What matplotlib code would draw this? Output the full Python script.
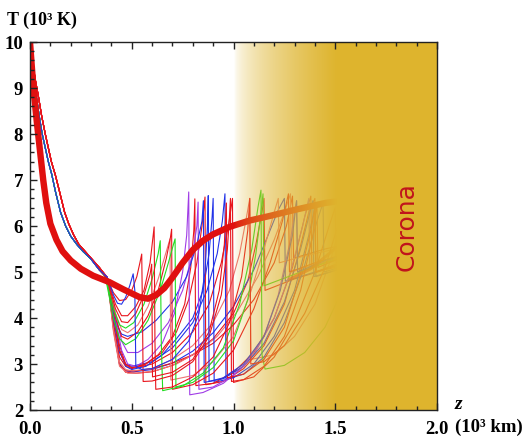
import numpy as np
import matplotlib
matplotlib.use("Agg")
import matplotlib.pyplot as plt
from matplotlib.ticker import MultipleLocator

# ---------------- data (z in 10^3 km, T in 10^3 K) ----------------
x_ticks = [0.0, 0.5, 1.0, 1.5, 2.0]
x_tick_labels = ["0.0", "0.5", "1.0", "1.5", "2.0"]
y_ticks = [2, 3, 4, 5, 6, 7, 8, 9, 10]
y_tick_labels = ["2", "3", "4", "5", "6", "7", "8", "9", "10"]

# shared descent of the thin (blue / green / purple) traces
descent_z = [0.0, 0.01, 0.02, 0.03, 0.045, 0.06, 0.075, 0.09, 0.107, 0.125, 0.15,
             0.175, 0.2, 0.23, 0.26, 0.3]
descent_T = [10.0, 9.6, 9.2, 8.85, 8.4, 8.0, 7.7, 7.4, 7.12, 6.75, 6.3,
             6.0, 5.78, 5.6, 5.45, 5.28]
# descent of the red traces (slightly to the right)
descent_red_z = [0.0, 0.012, 0.025, 0.04, 0.057, 0.075, 0.09, 0.105, 0.125, 0.145,
                 0.17, 0.19, 0.215, 0.24, 0.27, 0.3]
descent_red_T = [10.0, 9.6, 9.2, 8.85, 8.4, 8.0, 7.7, 7.4, 7.1, 6.75, 6.3,
                 6.05, 5.8, 5.6, 5.45, 5.3]

# mean temperature (thick line)
mean_z = [0.0, 0.01, 0.02, 0.035, 0.05, 0.065, 0.08, 0.1, 0.13, 0.16, 0.2, 0.25,
          0.31, 0.39, 0.46, 0.54, 0.58, 0.62, 0.66, 0.7, 0.75, 0.8, 0.85, 0.9,
          0.98, 1.08, 1.18, 1.3, 1.45, 1.65]
mean_T = [10.0, 9.4, 8.85, 8.2, 7.6, 7.0, 6.5, 6.05, 5.7, 5.45, 5.25, 5.07,
          4.92, 4.78, 4.62, 4.45, 4.42, 4.5, 4.65, 4.88, 5.2, 5.48, 5.68, 5.82,
          5.98, 6.12, 6.22, 6.35, 6.5, 6.62]
mean2_z = [1.28, 1.38, 1.47, 1.57, 1.65]
mean2_T = [4.85, 5.07, 5.4, 5.78, 6.0]

# individual traces after z = 0.3 : (z, T) points
blue1 = [(0.34, 5.05), (0.38, 4.88), (0.41, 4.5), (0.43, 4.32), (0.45, 4.3), (0.47, 4.45),
         (0.49, 4.7), (0.507, 4.96), (0.515, 4.6), (0.52, 2.95), (0.55, 2.88), (0.6, 2.9),
         (0.7, 3.1), (0.78, 3.5), (0.83, 4.1), (0.86, 5.0), (0.872, 6.0), (0.876, 6.66),
         (0.88, 2.62), (0.95, 2.7), (1.05, 3.0), (1.15, 3.6), (1.23, 4.6), (1.29, 5.8),
         (1.31, 6.55), (1.315, 5.0), (1.45, 5.25), (1.6, 5.45)]
red2 = [(0.34, 5.1), (0.38, 4.85), (0.41, 4.55), (0.44, 4.38), (0.47, 4.4), (0.5, 4.6),
        (0.525, 4.9), (0.54, 5.2), (0.549, 5.39), (0.553, 4.0), (0.556, 2.62), (0.6, 2.63),
        (0.7, 2.75), (0.8, 3.05), (0.88, 3.6), (0.94, 4.5), (0.97, 5.5), (0.98, 6.2),
        (0.985, 6.6), (0.99, 2.62), (1.05, 2.66), (1.15, 2.95), (1.25, 3.6), (1.33, 4.6),
        (1.39, 5.8), (1.41, 6.5), (1.415, 5.1), (1.55, 5.35), (1.65, 5.5)]
red3 = [(0.34, 5.1), (0.38, 4.85), (0.42, 4.3), (0.45, 4.05), (0.48, 4.05), (0.52, 4.25),
        (0.56, 4.6), (0.59, 5.2), (0.61, 5.98), (0.614, 3.5), (0.618, 2.45), (0.7, 2.5),
        (0.8, 2.72), (0.9, 3.15), (0.98, 3.9), (1.04, 4.9), (1.07, 5.9), (1.08, 6.6),
        (1.085, 3.0), (1.15, 3.05), (1.25, 3.4), (1.35, 4.1), (1.45, 5.1), (1.52, 6.1),
        (1.556, 6.48), (1.56, 5.3), (1.65, 5.4)]
red6 = [(0.34, 5.05), (0.38, 4.85), (0.42, 4.2), (0.45, 3.92), (0.48, 3.9), (0.52, 4.1),
        (0.56, 4.5), (0.59, 4.95), (0.598, 5.17), (0.602, 2.72), (0.7, 2.82), (0.8, 3.1),
        (0.88, 3.7), (0.93, 4.6), (0.955, 5.6), (0.965, 6.5), (0.97, 2.7), (1.05, 2.78),
        (1.15, 3.1), (1.25, 3.8), (1.32, 4.8), (1.38, 5.9), (1.4, 6.4), (1.405, 5.0),
        (1.55, 5.25), (1.65, 5.35)]
green4 = [(0.31, 5.24), (0.34, 5.05), (0.37, 4.9), (0.41, 4.2), (0.44, 3.85), (0.47, 3.78),
          (0.51, 3.9), (0.56, 4.3), (0.6, 4.85), (0.63, 5.4), (0.64, 5.68), (0.645, 3.5),
          (0.652, 2.42), (0.75, 2.52), (0.85, 2.8), (0.95, 3.35), (1.03, 4.3), (1.09, 5.5),
          (1.12, 6.4), (1.135, 6.78), (1.14, 3.2), (1.155, 2.89), (1.25, 2.97), (1.35, 3.25),
          (1.45, 3.8), (1.55, 4.75), (1.62, 5.3)]
green5 = [(0.34, 5.05), (0.37, 4.9), (0.41, 4.0), (0.44, 3.55), (0.47, 3.42), (0.52, 3.55),
          (0.58, 3.95), (0.64, 4.6), (0.68, 5.2), (0.705, 5.6), (0.713, 5.72), (0.717, 2.5),
          (0.8, 2.6), (0.9, 2.92), (1.0, 3.5), (1.07, 4.4), (1.11, 5.4), (1.135, 6.3),
          (1.145, 6.7), (1.15, 4.7), (1.3, 4.95), (1.45, 5.2), (1.6, 5.4)]
red7 = [(0.34, 5.1), (0.38, 4.85), (0.42, 4.0), (0.45, 3.6), (0.48, 3.54), (0.53, 3.7),
        (0.58, 4.05), (0.63, 4.6), (0.67, 5.3), (0.69, 5.75), (0.696, 5.93), (0.7, 2.45),
        (0.8, 2.55), (0.9, 2.8), (1.0, 3.3), (1.1, 4.2), (1.18, 5.2), (1.24, 6.1),
        (1.27, 6.7), (1.275, 5.0), (1.4, 5.2), (1.55, 5.4)]
pale8 = [(0.34, 5.1), (0.38, 4.85), (0.42, 4.1), (0.45, 3.75), (0.48, 3.68), (0.53, 3.85),
         (0.58, 4.25), (0.63, 4.85), (0.67, 5.45), (0.688, 5.72), (0.692, 2.65), (0.8, 2.75),
         (0.9, 3.05), (1.0, 3.6), (1.08, 4.5), (1.15, 5.5), (1.2, 6.3), (1.22, 6.6),
         (1.225, 5.2), (1.35, 5.35), (1.5, 5.5)]
purple9 = [(0.34, 5.05), (0.38, 4.88), (0.42, 4.0), (0.45, 3.3), (0.48, 3.0), (0.52, 2.95),
           (0.58, 3.1), (0.65, 3.45), (0.71, 4.1), (0.75, 5.0), (0.77, 5.8), (0.78, 6.74),
           (0.785, 2.33), (0.85, 2.38), (0.95, 2.58), (1.05, 2.95), (1.15, 3.6), (1.22, 4.5),
           (1.28, 5.7), (1.31, 6.55), (1.315, 5.0), (1.45, 5.2), (1.6, 5.35)]
purple10 = [(0.34, 5.05), (0.38, 4.88), (0.42, 4.1), (0.45, 3.5), (0.48, 3.25), (0.53, 3.25),
            (0.6, 3.45), (0.68, 3.9), (0.75, 4.6), (0.8, 5.4), (0.82, 6.0), (0.826, 6.52),
            (0.83, 2.45), (0.9, 2.5), (1.0, 2.75), (1.1, 3.2), (1.2, 4.0), (1.28, 5.0),
            (1.34, 6.0), (1.37, 6.6), (1.375, 5.1), (1.5, 5.3)]
red11 = [(0.34, 5.1), (0.38, 4.88), (0.41, 4.2), (0.44, 3.4), (0.47, 3.0), (0.5, 2.92),
         (0.56, 2.98), (0.63, 3.2), (0.7, 3.6), (0.76, 4.3), (0.79, 5.1), (0.805, 5.9),
         (0.81, 6.59), (0.815, 2.53), (0.9, 2.58), (1.0, 2.82), (1.1, 3.25), (1.2, 4.0),
         (1.29, 5.1), (1.35, 6.2), (1.38, 6.65), (1.385, 5.1), (1.5, 5.3), (1.62, 5.45)]
red12 = [(0.34, 5.1), (0.38, 4.88), (0.41, 4.1), (0.44, 3.3), (0.47, 2.98), (0.5, 2.92),
         (0.57, 3.0), (0.65, 3.25), (0.72, 3.7), (0.78, 4.4), (0.82, 5.2), (0.845, 6.0),
         (0.86, 6.63), (0.864, 2.55), (0.95, 2.62), (1.05, 2.9), (1.15, 3.4), (1.25, 4.3),
         (1.32, 5.4), (1.37, 6.3), (1.4, 6.6), (1.405, 5.0), (1.55, 5.2)]
blue12 = [(0.34, 5.05), (0.38, 4.88), (0.41, 4.1), (0.44, 3.3), (0.47, 2.95), (0.5, 2.88),
          (0.57, 2.95), (0.65, 3.2), (0.72, 3.55), (0.8, 4.0), (0.85, 4.6), (0.88, 5.4),
          (0.895, 6.2), (0.9, 6.6), (0.905, 2.6), (1.0, 2.7), (1.1, 3.0), (1.2, 3.6),
          (1.3, 4.6), (1.37, 5.8), (1.4, 6.4), (1.405, 4.9), (1.55, 5.1)]
blue13 = [(0.34, 5.05), (0.38, 4.88), (0.41, 4.0), (0.44, 3.25), (0.47, 3.0), (0.5, 2.95),
          (0.6, 3.05), (0.7, 3.35), (0.8, 3.9), (0.87, 4.6), (0.92, 5.4), (0.945, 6.1),
          (0.958, 6.7), (0.963, 2.67), (1.05, 2.78), (1.15, 3.15), (1.25, 3.9), (1.34, 5.0),
          (1.41, 6.1), (1.44, 6.5), (1.445, 5.0), (1.6, 5.2)]
red14 = [(0.34, 5.1), (0.38, 4.88), (0.41, 3.9), (0.44, 3.15), (0.47, 2.95), (0.5, 2.9),
         (0.6, 3.0), (0.7, 3.25), (0.8, 3.7), (0.88, 4.3), (0.94, 5.2), (0.975, 6.0),
         (0.995, 6.6), (1.0, 2.6), (1.1, 2.72), (1.2, 3.15), (1.3, 3.9), (1.4, 5.0),
         (1.47, 6.0), (1.5, 6.4), (1.505, 5.2), (1.65, 5.4)]
pale15 = [(0.34, 5.1), (0.38, 4.88), (0.41, 3.8), (0.44, 3.05), (0.47, 2.88), (0.5, 2.85),
          (0.6, 2.9), (0.7, 3.1), (0.8, 3.4), (0.9, 3.9), (0.98, 4.6), (1.03, 5.4),
          (1.06, 6.1), (1.08, 6.6), (1.085, 3.1), (1.2, 3.2), (1.3, 3.6), (1.4, 4.3),
          (1.48, 5.3), (1.53, 6.1), (1.556, 6.48), (1.56, 5.3), (1.66, 5.45)]
red16 = [(0.34, 5.1), (0.38, 4.88), (0.41, 3.8), (0.44, 3.0), (0.47, 2.82), (0.52, 2.8),
         (0.6, 2.83), (0.7, 2.97), (0.8, 3.2), (0.9, 3.55), (1.0, 4.1), (1.07, 4.8),
         (1.11, 5.6), (1.14, 6.3), (1.15, 6.6), (1.155, 4.6), (1.3, 4.85), (1.45, 5.05),
         (1.6, 5.2)]
blue17 = [(0.34, 5.05), (0.38, 4.88), (0.41, 3.8), (0.44, 3.0), (0.47, 2.85), (0.51, 2.83),
          (0.6, 2.88), (0.7, 3.02), (0.8, 3.28), (0.9, 3.68), (1.0, 4.25), (1.1, 5.05),
          (1.17, 5.8), (1.22, 6.35), (1.25, 6.6), (1.255, 4.8), (1.4, 5.0), (1.55, 5.2)]
red18 = [(0.34, 5.1), (0.38, 4.88), (0.41, 3.75), (0.44, 2.98), (0.47, 2.85), (0.52, 2.85),
         (0.6, 2.9), (0.7, 3.02), (0.8, 3.2), (0.9, 3.45), (1.0, 3.85), (1.1, 4.4),
         (1.2, 5.2), (1.26, 6.0), (1.29, 6.65), (1.295, 5.3), (1.45, 5.5), (1.6, 5.65)]
pale19 = [(0.34, 5.1), (0.38, 4.88), (0.41, 3.7), (0.44, 2.95), (0.48, 2.8), (0.53, 2.8),
          (0.62, 2.86), (0.72, 3.0), (0.82, 3.25), (0.92, 3.6), (1.02, 4.15), (1.12, 4.9),
          (1.2, 5.7), (1.25, 6.3), (1.28, 6.7), (1.285, 5.0), (1.42, 5.2)]
blue20 = [(0.34, 5.05), (0.38, 4.88), (0.42, 3.9), (0.45, 3.65), (0.48, 3.6), (0.55, 3.7),
          (0.62, 3.95), (0.7, 4.35), (0.77, 4.9), (0.82, 5.6), (0.845, 6.1), (0.852, 6.55),
          (0.856, 2.6), (0.95, 2.68), (1.05, 2.95), (1.15, 3.45), (1.25, 4.35), (1.33, 5.5),
          (1.37, 6.2), (1.39, 6.55), (1.395, 4.9), (1.55, 5.1)]

RED = "#E8141C"
PALE = "#EE7272"
BLUE = "#2233E8"
GREEN = "#22DD22"
PURPLE = "#A03CE6"
GOLD = (0.871, 0.706, 0.180)

traces = [
    (red16, RED, True), (blue17, BLUE, False), (red18, RED, True), (pale19, PALE, True),
    (pale15, PALE, True), (red14, RED, True), (blue13, BLUE, False), (blue12, BLUE, False),
    (red12, RED, True), (red11, RED, True), (purple10, PURPLE, False), (blue20, BLUE, False),
    (purple9, PURPLE, False), (pale8, PALE, True), (red7, RED, True), (green5, GREEN, False),
    (green4, GREEN, False), (red6, RED, True), (red3, RED, True), (red2, RED, True),
    (blue1, BLUE, False),
]

# ---------------- figure ----------------
W, H = 526, 439
fig = plt.figure(figsize=(W / 100, H / 100), dpi=100)
ax = fig.add_axes([30 / W, 28 / H, 407 / W, 368 / H])
ax.set_xlim(0, 2)
ax.set_ylim(2, 10)

for pts, col, is_red in traces:
    dz = descent_red_z if is_red else descent_z
    dT = descent_red_T if is_red else descent_T
    zz = list(dz) + [p[0] for p in pts]
    tt = list(dT) + [p[1] for p in pts]
    ax.plot(zz, tt, color=col, lw=0.8, zorder=2, solid_joinstyle="round")

ax.plot(mean2_z, mean2_T, color=RED, lw=2.2, zorder=2.05, alpha=0.8,
        solid_capstyle="round")
ax.plot(mean_z, mean_T, color="#E0100F", lw=4.6, zorder=2.1,
        solid_capstyle="round", solid_joinstyle="round")

# corona gradient overlay
nx = 400
xs = np.linspace(1.0, 2.0, nx)
a = np.clip((xs - 1.0) / 0.5, 0, 1) ** 0.6
img = np.zeros((1, nx, 4))
img[..., 0] = GOLD[0]
img[..., 1] = GOLD[1]
img[..., 2] = GOLD[2]
img[..., 3] = a
ax.imshow(img, extent=[1.0, 2.0, 2, 10], aspect="auto", zorder=2.3,
          interpolation="bilinear")
ax.set_xlim(0, 2)
ax.set_ylim(2, 10)

ax.text(1.853, 6.0, "Corona", rotation=90, color="#C0141C", fontsize=18,
        family="DejaVu Sans", ha="center", va="center", zorder=3)

# axes styling
ax.set_axisbelow(False)
for s in ax.spines.values():
    s.set_linewidth(1.0)
    s.set_color("#222222")
    s.set_zorder(3)
ax.set_xticks(x_ticks)
ax.set_xticklabels(x_tick_labels)
ax.set_yticks(y_ticks)
ax.set_yticklabels(y_tick_labels)
ax.xaxis.set_minor_locator(MultipleLocator(0.1))
ax.yaxis.set_minor_locator(MultipleLocator(0.2))
ax.tick_params(which="both", direction="in", top=True, right=False,
               color="#222222", width=1.0)
ax.tick_params(which="major", length=5)
ax.tick_params(which="minor", length=3)
ax.tick_params(axis="x", pad=7)
ax.tick_params(axis="y", pad=5)
for lab in ax.get_xticklabels() + ax.get_yticklabels():
    lab.set_fontfamily("Liberation Serif")
    lab.set_fontweight("bold")
    lab.set_fontsize(13.5)

fig.text(7 / W, 1 - 20 / H, "T (10³ K)", fontsize=13, fontweight="bold",
         family="Liberation Serif", ha="left", va="center")
fig.text(458 / W, 1 - 405 / H, "z", fontsize=14, fontweight="bold",
         fontstyle="italic", family="Liberation Serif", ha="center", va="center")
fig.text(455 / W, 1 - 427 / H, "(10³ km)", fontsize=13.5, fontweight="bold",
         family="Liberation Serif", ha="left", va="center")

fig.savefig("out.png", dpi=100)
